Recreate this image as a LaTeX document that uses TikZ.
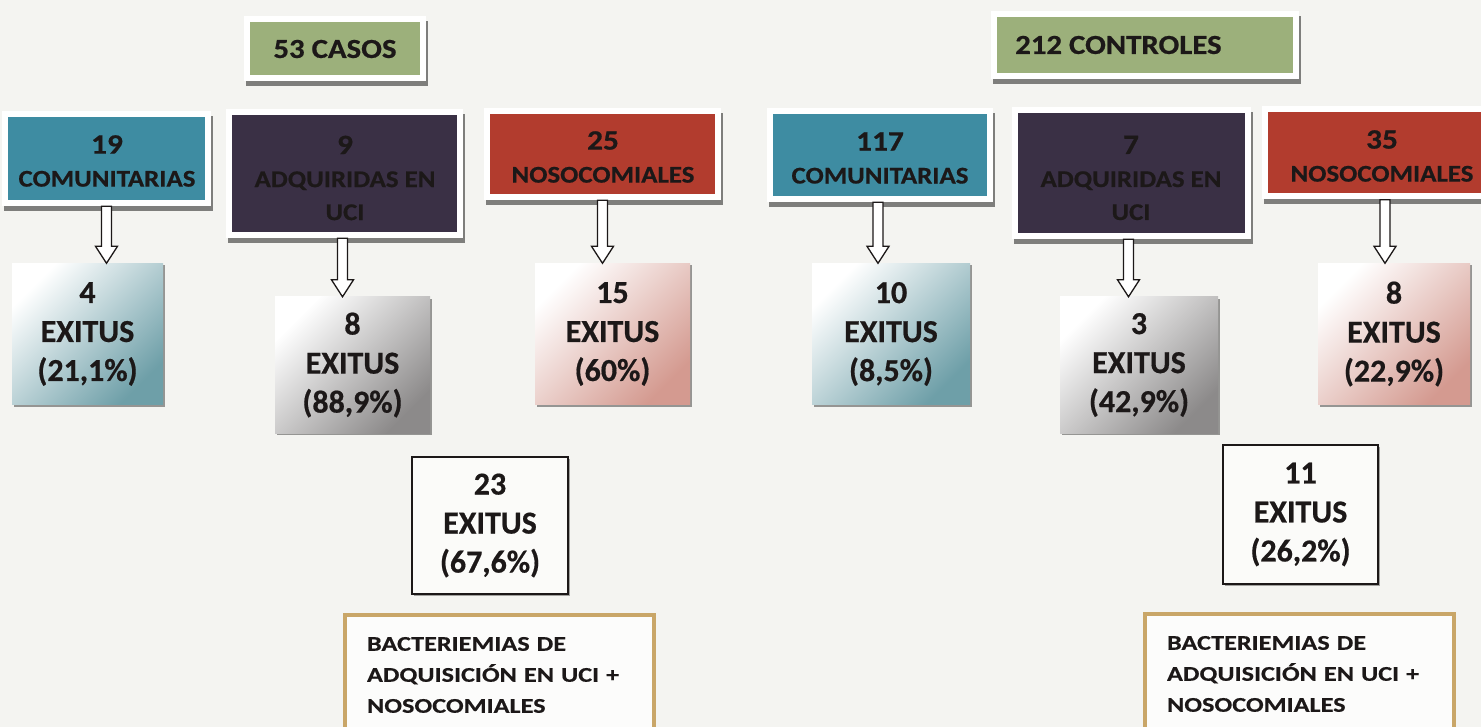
\documentclass[tikz,border=0pt]{standalone}
\usepackage{fontspec}
\setmainfont{Carlito}
\newfontfamily\cf{Carlito}[FakeStretch=1.12, BoldFeatures={FakeBold=0.6}]
\newfontfamily\bactf{Carlito}[FakeStretch=1.25, BoldFeatures={FakeBold=0.4}]
\newfontfamily\ef{Carlito}[BoldFeatures={FakeBold=0.5}]
\usetikzlibrary{shadows,calc}
\definecolor{bg}{HTML}{F4F4F1}
\definecolor{ink}{HTML}{1C1818}
\definecolor{cteal}{HTML}{3E8CA2}
\definecolor{cpurp}{HTML}{3A3045}
\definecolor{cred}{HTML}{B23C2E}
\definecolor{cgreen}{HTML}{9CB07B}
\definecolor{tan}{HTML}{C9A668}
\definecolor{shad}{HTML}{7E7E7C}
\definecolor{eteal}{HTML}{6E9FA8}
\definecolor{egray}{HTML}{8C8A8A}
\definecolor{epink}{HTML}{D49A90}
\newcommand{\bignum}[1]{{\fontsize{28}{33}\selectfont #1}}
\tikzset{
  cbox/.style={fill=white, draw=none, inner sep=0pt,
    drop shadow={shadow xshift=2pt, shadow yshift=-5pt, fill=shad, opacity=1},
    path picture={\fill[#1] ([shift={(6pt,-6pt)}]path picture bounding box.north west) rectangle ([shift={(-6pt,6pt)}]path picture bounding box.south east);}},
  ctxt/.style={inner sep=0pt, align=center, text=ink, font=\cf\bfseries\fontsize{24}{33}\selectfont},
  ttxt/.style={inner sep=0pt, align=left, text=ink, font=\cf\bfseries\fontsize{27.5}{32}\selectfont},
  ebox/.style={draw=none, inner sep=0pt, align=center, text=ink,
    top color=white, bottom color=#1, shading angle=45,
    font=\ef\bfseries\fontsize{32}{39}\selectfont,
    drop shadow={shadow xshift=2pt, shadow yshift=-2pt, fill=shad, opacity=0.8}},
  wbox/.style={draw=ink, line width=2pt, fill=white!60!bg, inner sep=0pt, align=center, text=ink,
    font=\ef\bfseries\fontsize{32}{39}\selectfont,
    drop shadow={shadow xshift=1.5pt, shadow yshift=-1.5pt, fill=shad, opacity=0.7}},
  bbox/.style={draw=tan, line width=4pt, fill=white!70!bg, anchor=north west, align=left, text=ink,
    inner xsep=22pt, inner ysep=22pt, text width=265pt,
    font=\bactf\bfseries\fontsize{21}{31}\selectfont},
  hollow/.style={draw=ink, line width=1.3pt, fill=white,
    to path={let \p1=(\tikztostart), \p2=(\tikztotarget) in
      (\x1-5pt,\y1) -- (\x1-5pt,\y2+17pt) -- (\x1-11pt,\y2+17pt) -- (\x1,\y2)
      -- (\x1+11pt,\y2+17pt) -- (\x1+5pt,\y2+17pt) -- (\x1+5pt,\y1) -- cycle}}
}
\begin{document}
\begin{tikzpicture}[x=1pt,y=-1pt]
\clip (0,0) rectangle (1481,727);
\fill[bg] (0,0) rectangle (1481,727);

% titles
\node[cbox=cgreen, minimum width=182pt, minimum height=65pt] (c53) at (335,48.5) {};
\node[ttxt] (c53t) at (335,49) {53 CASOS};
\node[cbox=cgreen, minimum width=308pt, minimum height=68pt] (c212) at (1145,45) {};
\node[ttxt, anchor=west] (c212t) at (1015,45) {212 CONTROLES};

% categories
\node[cbox=cteal, minimum width=209pt, minimum height=95pt] (c19) at (106.5,158.5) {};
\node[ctxt] (c19t) at (107,161) {\bignum{19}\\COMUNITARIAS};
\node[cbox=cpurp, minimum width=237pt, minimum height=129pt] (c9) at (344.5,173.5) {};
\node[ctxt] (c9t) at (345,178) {\bignum{9}\\ADQUIRIDAS EN\\UCI};
\node[cbox=cred, minimum width=237pt, minimum height=92pt] (c25) at (602.5,154) {};
\node[ctxt] (c25t) at (603,157) {\bignum{25}\\NOSOCOMIALES};
\node[cbox=cteal, minimum width=226pt, minimum height=94pt] (c117) at (880,155) {};
\node[ctxt] (c117t) at (880,158) {\bignum{117}\\COMUNITARIAS};
\node[cbox=cpurp, minimum width=239pt, minimum height=132pt] (c7) at (1131.5,173) {};
\node[ctxt] (c7t) at (1131,178) {\bignum{7}\\ADQUIRIDAS EN\\UCI};
\node[cbox=cred, minimum width=238pt, minimum height=93pt] (c35) at (1381,153) {};
\node[ctxt] (c35t) at (1382,156) {\bignum{35}\\NOSOCOMIALES};

% exitus
\node[ebox=eteal, minimum width=151pt, minimum height=141pt] (e4) at (87.5,334) {4\\EXITUS\\(21,1\%)};
\node[ebox=egray, minimum width=155pt, minimum height=136pt] (e8a) at (352.5,365) {8\\EXITUS\\(88,9\%)};
\node[ebox=epink, minimum width=155pt, minimum height=141pt] (e15) at (612.5,334) {15\\EXITUS\\(60\%)};
\node[ebox=eteal, minimum width=158pt, minimum height=141pt] (e10) at (891,334) {10\\EXITUS\\(8,5\%)};
\node[ebox=egray, minimum width=158pt, minimum height=136pt] (e3) at (1139,365) {3\\EXITUS\\(42,9\%)};
\node[ebox=epink, minimum width=152pt, minimum height=141pt] (e8b) at (1394,334) {8\\EXITUS\\(22,9\%)};

% totals
\node[wbox, minimum width=156pt, minimum height=137pt] (t23) at (490,525.5) {23\\EXITUS\\(67,6\%)};
\node[wbox, minimum width=155pt, minimum height=139pt] (t11) at (1300.5,514.5) {11\\EXITUS\\(26,2\%)};

% notes
\node[bbox] (b1) at (343,613) {BACTERIEMIAS DE\\ADQUISICIÓN EN UCI +\\NOSOCOMIALES};
\node[bbox] (b2) at (1143,612) {BACTERIEMIAS DE\\ADQUISICIÓN EN UCI +\\NOSOCOMIALES};

% arrows
\draw[hollow] (c19.south) to (e4.north);
\draw[hollow] ([xshift=-2pt]c9.south) to (e8a.north);
\draw[hollow] (c25.south) to (e15.north);
\draw[hollow] ([xshift=-2pt]c117.south) to (e10.north);
\draw[hollow] ([xshift=-3pt]c7.south) to (e3.north);
\draw[hollow] ([xshift=4pt]c35.south) to (e8b.north);
\end{tikzpicture}
\end{document}
